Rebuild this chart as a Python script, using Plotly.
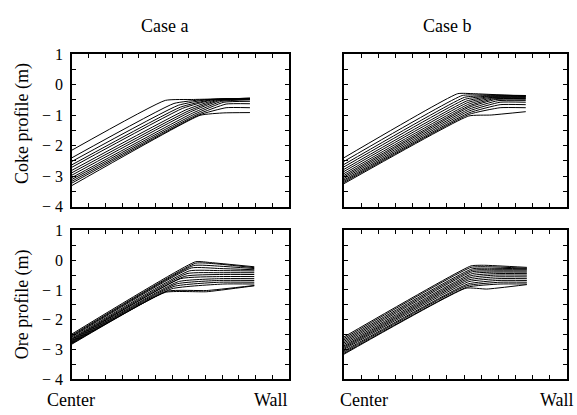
import plotly.graph_objects as go

# ---------------- data ----------------
# Radial position: 0 = Center, 1 = Wall ; heights in m
# Coke, case a
COKE_A_CENTER = [-2.15, -2.40, -2.52, -2.63, -2.71, -2.81, -2.89, -2.97, -3.05, -3.11, -3.17, -3.23, -3.31]
COKE_A_KNEE_X = [0.43, 0.47, 0.49, 0.50, 0.51, 0.525, 0.535, 0.545, 0.555, 0.565, 0.575, 0.585, 0.59]
COKE_A_KNEE_Y = [-0.52, -0.62, -0.68, -0.74, -0.78, -0.83, -0.87, -0.90, -0.94, -0.97, -0.99, -1.00, -1.01]
COKE_A_SHLD_X = [0.56, 0.60, 0.62, 0.64, 0.65, 0.66, 0.67, 0.68, 0.69, 0.70, 0.71, 0.71, 0.70]
COKE_A_SHLD_Y = [-0.49, -0.50, -0.50, -0.50, -0.50, -0.51, -0.52, -0.53, -0.55, -0.58, -0.64, -0.76, -0.93]
COKE_A_WALL_Y = [-0.45, -0.45, -0.45, -0.46, -0.46, -0.47, -0.47, -0.48, -0.50, -0.55, -0.63, -0.76, -0.92]
COKE_A_END_X = 0.82

# Coke, case b
COKE_B_CENTER = [-2.40, -2.52, -2.62, -2.70, -2.78, -2.85, -2.92, -2.98, -3.03, -3.08, -3.13, -3.17, -3.21, -3.25]
COKE_B_KNEE_X = [0.51, 0.53, 0.54, 0.545, 0.55, 0.555, 0.56, 0.56, 0.56, 0.56, 0.56, 0.56, 0.56, 0.56]
COKE_B_KNEE_Y = [-0.30, -0.36, -0.42, -0.48, -0.54, -0.59, -0.64, -0.70, -0.75, -0.81, -0.87, -0.93, -0.98, -1.03]
COKE_B_SHLD_X = [0.58, 0.60, 0.62, 0.63, 0.64, 0.65, 0.66, 0.67, 0.68, 0.69, 0.70, 0.70, 0.70, 0.66]
COKE_B_SHLD_Y = [-0.30, -0.34, -0.37, -0.39, -0.41, -0.43, -0.45, -0.47, -0.49, -0.53, -0.58, -0.66, -0.76, -1.00]
COKE_B_WALL_Y = [-0.38, -0.36, -0.37, -0.38, -0.40, -0.42, -0.44, -0.46, -0.48, -0.52, -0.58, -0.66, -0.76, -0.89]
COKE_B_END_X = 0.815

# Ore, case a
ORE_A_CENTER = [-2.48, -2.52, -2.55, -2.58, -2.62, -2.65, -2.67, -2.70, -2.72, -2.74, -2.76, -2.78, -2.80, -2.82]
ORE_A_KNEE_X = [0.57, 0.57, 0.56, 0.55, 0.54, 0.53, 0.52, 0.50, 0.49, 0.48, 0.47, 0.46, 0.44, 0.43]
ORE_A_KNEE_Y = [-0.05, -0.10, -0.18, -0.26, -0.36, -0.45, -0.54, -0.62, -0.72, -0.80, -0.88, -0.96, -1.04, -1.08]
ORE_A_SHLD_X = [0.64, 0.66, 0.68, 0.68, 0.68, 0.68, 0.68, 0.68, 0.68, 0.68, 0.68, 0.70, 0.62, 0.62]
ORE_A_SHLD_Y = [-0.08, -0.12, -0.20, -0.28, -0.35, -0.42, -0.48, -0.55, -0.62, -0.68, -0.74, -0.80, -1.02, -1.06]
ORE_A_WALL_Y = [-0.22, -0.25, -0.28, -0.32, -0.36, -0.42, -0.48, -0.55, -0.62, -0.68, -0.74, -0.80, -0.85, -0.86]
ORE_A_END_X = 0.84

# Ore, case b
ORE_B_CENTER = [-2.58, -2.63, -2.68, -2.73, -2.78, -2.83, -2.88, -2.92, -2.96, -3.00, -3.05, -3.09, -3.13, -3.16]
ORE_B_KNEE_X = [0.57, 0.57, 0.575, 0.575, 0.575, 0.575, 0.57, 0.565, 0.56, 0.56, 0.555, 0.55, 0.55, 0.547]
ORE_B_KNEE_Y = [-0.19, -0.24, -0.29, -0.34, -0.39, -0.45, -0.52, -0.59, -0.66, -0.72, -0.80, -0.86, -0.91, -0.94]
ORE_B_SHLD_X = [0.63, 0.65, 0.66, 0.66, 0.67, 0.67, 0.68, 0.68, 0.68, 0.69, 0.69, 0.70, 0.70, 0.64]
ORE_B_SHLD_Y = [-0.17, -0.22, -0.27, -0.32, -0.36, -0.40, -0.45, -0.50, -0.56, -0.62, -0.68, -0.74, -0.80, -0.97]
ORE_B_WALL_Y = [-0.24, -0.27, -0.29, -0.32, -0.36, -0.40, -0.45, -0.50, -0.56, -0.62, -0.68, -0.74, -0.80, -0.82]
ORE_B_END_X = 0.82

Y_TICKVALS = [-4, -3.5, -3, -2.5, -2, -1.5, -1, -0.5, 0, 0.5, 1]
Y_TICKTEXT = ["\u2212 4", "", "\u2212 3", "", "\u2212 2", "", "\u2212 1", "", "0", "", "1"]

COL_TITLES = ["Case a", "Case b"]
ROW_TITLES = ["Coke profile (m)", "Ore profile (m)"]
X_LABELS = ["Center", "Wall"]

# ---------------- figure ----------------
W, H = 577, 415
FONT = "Liberation Serif"

def px_x(p):
    return p / W

def px_y(p):
    return 1 - p / H

panels = [
    ("x", "y", (COKE_A_CENTER, COKE_A_KNEE_X, COKE_A_KNEE_Y, COKE_A_SHLD_X, COKE_A_SHLD_Y, COKE_A_WALL_Y, COKE_A_END_X), (72, 289), (48, 207)),
    ("x2", "y2", (COKE_B_CENTER, COKE_B_KNEE_X, COKE_B_KNEE_Y, COKE_B_SHLD_X, COKE_B_SHLD_Y, COKE_B_WALL_Y, COKE_B_END_X), (344, 567), (48, 207)),
    ("x3", "y3", (ORE_A_CENTER, ORE_A_KNEE_X, ORE_A_KNEE_Y, ORE_A_SHLD_X, ORE_A_SHLD_Y, ORE_A_WALL_Y, ORE_A_END_X), (72, 289), (232, 387)),
    ("x4", "y4", (ORE_B_CENTER, ORE_B_KNEE_X, ORE_B_KNEE_Y, ORE_B_SHLD_X, ORE_B_SHLD_Y, ORE_B_WALL_Y, ORE_B_END_X), (344, 567), (232, 387)),
]

fig = go.Figure()
layout = dict(
    width=W, height=H,
    margin=dict(l=0, r=0, t=0, b=0),
    paper_bgcolor="white", plot_bgcolor="white",
    showlegend=False,
    font=dict(family=FONT, color="black", size=15),
)

for i, (xa, ya, data, xd, yd) in enumerate(panels):
    center, kx, ky, sx, sy, wy, ex = data
    for j in range(len(center)):
        fig.add_trace(go.Scatter(
            x=[0, kx[j], sx[j], ex],
            y=[center[j], ky[j], sy[j], wy[j]],
            mode="lines",
            line=dict(color="black", width=1.0, shape="spline", smoothing=0.4),
            xaxis=xa, yaxis=ya, hoverinfo="skip",
        ))
    xkey = "xaxis" if xa == "x" else "xaxis" + xa[1:]
    ykey = "yaxis" if ya == "y" else "yaxis" + ya[1:]
    layout[xkey] = dict(
        domain=[px_x(xd[0]), px_x(xd[1])], range=[0, 1], anchor=ya,
        showgrid=False, zeroline=False, showline=True, linecolor="black", linewidth=1.5,
        mirror="allticks", ticks="inside", ticklen=4, tickcolor="black", tickwidth=1,
        tick0=0, dtick=1 / 13, showticklabels=False, fixedrange=True,
    )
    layout[ykey] = dict(
        domain=[px_y(yd[1]), px_y(yd[0])], range=[-4, 1], anchor=xa,
        showgrid=False, zeroline=False, showline=True, linecolor="black", linewidth=1.5,
        mirror="allticks", ticks="inside", ticklen=4, tickcolor="black", tickwidth=1,
        tickvals=Y_TICKVALS, ticktext=Y_TICKTEXT,
        showticklabels=(i % 2 == 0), ticklabelstandoff=4,
        tickfont=dict(family=FONT, size=16, color="black"), fixedrange=True,
    )

fig.update_layout(**layout)

ann = []
for txt, cx in zip(COL_TITLES, [165, 447]):
    ann.append(dict(text=txt, x=px_x(cx), y=px_y(19), xref="paper", yref="paper",
                    showarrow=False, xanchor="center", yanchor="middle",
                    font=dict(family=FONT, size=18, color="black")))
for txt, cy in zip(ROW_TITLES, [121, 309]):
    ann.append(dict(text=txt, x=px_x(22), y=px_y(cy), xref="paper", yref="paper",
                    showarrow=False, xanchor="center", yanchor="middle", textangle=-90,
                    font=dict(family=FONT, size=18, color="black")))
for left, right in [(45, 290), (338, 576)]:
    ann.append(dict(text=X_LABELS[0], x=px_x(left), y=px_y(409), xref="paper", yref="paper",
                    showarrow=False, xanchor="left", yanchor="middle",
                    font=dict(family=FONT, size=18, color="black")))
    ann.append(dict(text=X_LABELS[1], x=px_x(right), y=px_y(409), xref="paper", yref="paper",
                    showarrow=False, xanchor="right", yanchor="middle",
                    font=dict(family=FONT, size=18, color="black")))
fig.update_layout(annotations=ann)

fig.write_html("out.html")
